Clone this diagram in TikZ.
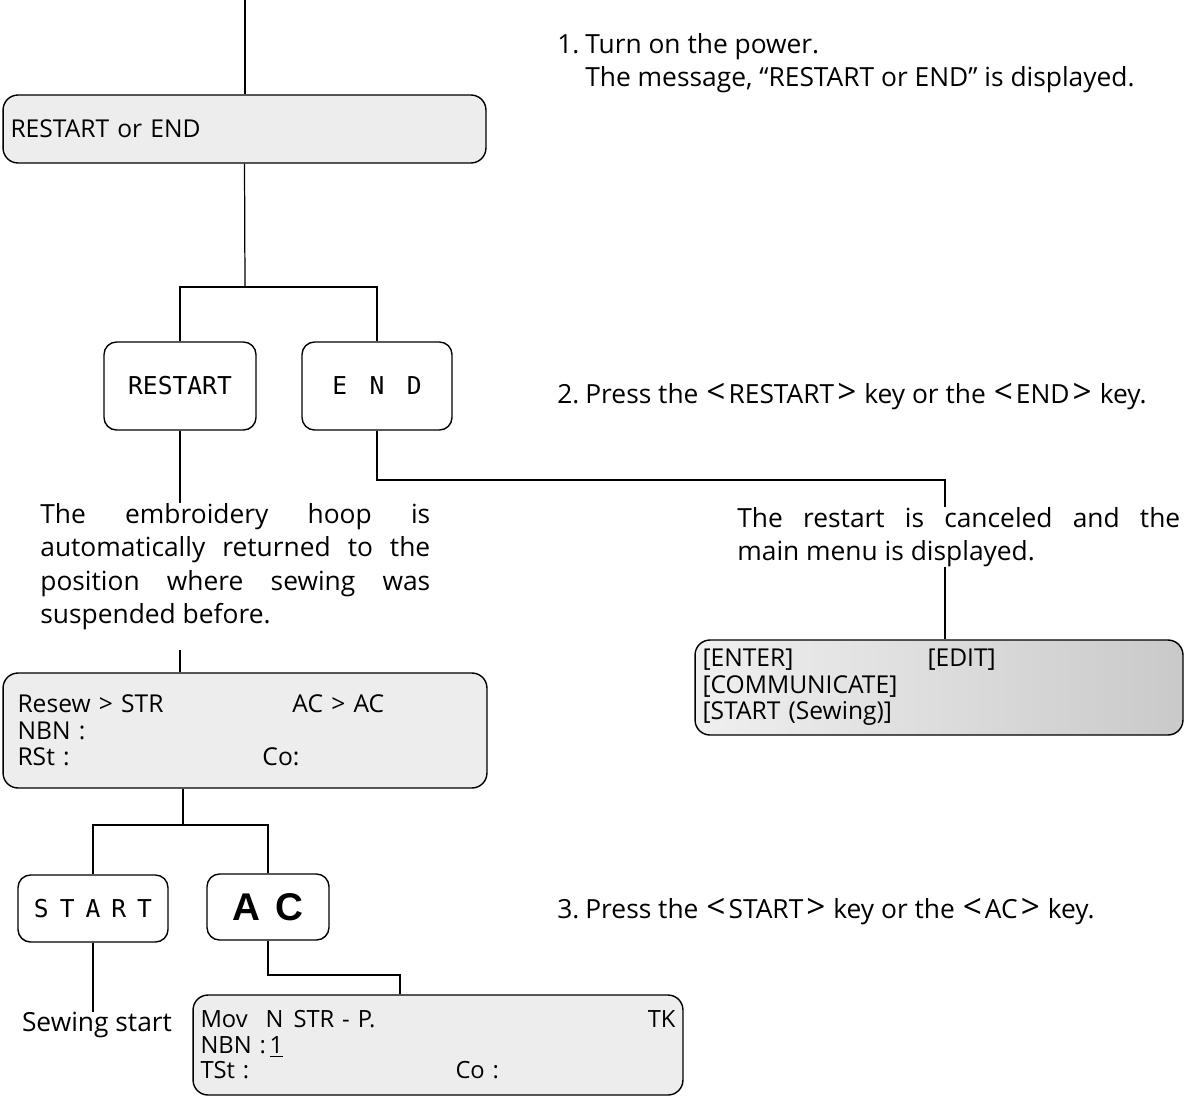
\documentclass[tikz,border=0pt]{standalone}
\usepackage{fontspec}
\setmainfont{Open Sans}
\newfontfamily\keyfont{DejaVu Sans Mono}
\newfontfamily\ackeyfont{Liberation Sans}
\usetikzlibrary{positioning, calc}
\newcommand{\keyref}[1]{\hspace{0.16cm}{\fontsize{19}{19}\selectfont<}\hspace{0.06cm}#1\hspace{0.06cm}{\fontsize{19}{19}\selectfont>}\hspace{0.16cm}}

\begin{document}
\begin{tikzpicture}[
			x=0.02cm, y=-0.02cm,
			font=\fontsize{15}{19}\selectfont,
			% Styles
			lcd/.style={draw, line width=0.8pt, rounded corners=0.3cm, fill=gray!14, inner xsep=0.15cm, align=left, font=\fontsize{14}{15}\selectfont},
			keybox/.style={draw, line width=0.8pt, rounded corners=0.25cm, fill=white, font=\keyfont\fontsize{14}{16}\selectfont},
			wire/.style={line width=0.7pt},
			note/.style={inner sep=0pt, align=left}
			]
			\useasboundingbox (0,0) rectangle (1202,1102);
			
			% --- 1. Power on ---
			\coordinate (top) at (245,0);
			\node[lcd, minimum width=9.66cm, minimum height=1.36cm, text width=9.36cm] (msg) at (244.5,129) {RESTART or END};
			\draw[wire] (top) -- (msg.north -| top);
			
			\node[note, anchor=north west] (step1) at (557,33) {\makebox[0.56cm][l]{1.}Turn on the power.\\\hspace*{0.56cm}The message, ``RESTART or END'' is displayed.};
			
			% --- 2. RESTART / END keys ---
			\node[keybox, minimum width=3.04cm, minimum height=1.76cm] (restart) at (180,386) {RESTART};
			\node[keybox, minimum width=3.0cm, minimum height=1.76cm] (endkey) at (377,386) {E\hspace{0.45cm}N\hspace{0.45cm}D};
			\coordinate (split1) at (245,287);
			\draw[wire] (msg.south) -- (split1);
			\draw[wire] (restart.north) |- (split1) -| (endkey.north);
			
			\node[note, anchor=west] (step2) at (557,397) {\makebox[0.56cm][l]{2.}Press the\keyref{RESTART}key or the\keyref{END}key.};
			
			% restart branch
			\node[note, anchor=north west] (hoop) at (40,503) {\makebox[7.8cm][s]{The embroidery hoop is}\\\makebox[7.8cm][s]{automatically returned to the}\\\makebox[7.8cm][s]{position where sewing was}\\suspended before.};
			\draw[wire] (restart.south) -- (restart.south |- hoop.north);
			
			\node[lcd, minimum width=9.68cm, minimum height=2.3cm, text width=9.1cm, inner xsep=0.29cm] (resew) at (245,730.5) {\makebox[5.5cm][l]{Resew > STR}AC > AC\\NBN :\\\makebox[4.9cm][l]{RSt :}Co:};
			\coordinate (hoopout) at (180,650);
			\draw[wire] (hoopout) -- (resew.north -| hoopout);
			
			% end branch
			\coordinate (bend1) at (945,480);
			\node[note, anchor=north west] (cancel) at (737,507) {\makebox[8.86cm][s]{The restart is canceled and the}\\main menu is displayed.};
			\draw[wire] (endkey.south) |- (bend1) -- (bend1 |- cancel.north);
			
			\node[lcd, minimum width=9.76cm, minimum height=1.9cm, text width=9.46cm, fill=none, left color=gray!12, right color=gray!42] (menu) at (939,687.5) {\makebox[4.5cm][l]{[ENTER]}[EDIT]\\{}[COMMUNICATE]\\{}[START (Sewing)]};
			\draw[wire] (bend1 |- cancel.south) -- (bend1 |- menu.north);
			
			% --- 3. START / AC keys ---
			\node[keybox, minimum width=3.0cm, minimum height=1.34cm] (startkey) at (93,908.5) {S\hspace{0.22cm}T\hspace{0.22cm}A\hspace{0.22cm}R\hspace{0.22cm}T};
			\node[keybox, minimum width=2.44cm, minimum height=1.32cm, font=\ackeyfont\bfseries\fontsize{22}{24}\selectfont] (ackey) at (268,907) {A\hspace{0.3cm}C};
			\coordinate (split2) at (183,825);
			\draw[wire] (resew.south -| split2) -- (split2);
			\draw[wire] (startkey.north) |- (split2) -| (ackey.north);
			
			\node[note, anchor=west] (step3) at (557,912) {\makebox[0.56cm][l]{3.}Press the\keyref{START}key or the\keyref{AC}key.};
			
			\node[note] (sewstart) at (97,1025) {Sewing start};
			\draw[wire] (startkey.south) -- (startkey.south |- sewstart.north);
			
			\node[lcd, minimum width=9.8cm, minimum height=2.0cm, text width=9.5cm, font=\fontsize{13.5}{14.5}\selectfont] (mov) at (438,1045) {\makebox[1.3cm][l]{Mov}\makebox[0.56cm][l]{N}STR - P.\hfill TK\\\makebox[1.38cm][l]{NBN :}\underline{1}\\\makebox[5.1cm][l]{TSt :}Co :};
			\coordinate (bend2) at (400,975);
			\draw[wire] (ackey.south) |- (bend2) -- (bend2 |- mov.north);
			
		\end{tikzpicture}
\end{document}
